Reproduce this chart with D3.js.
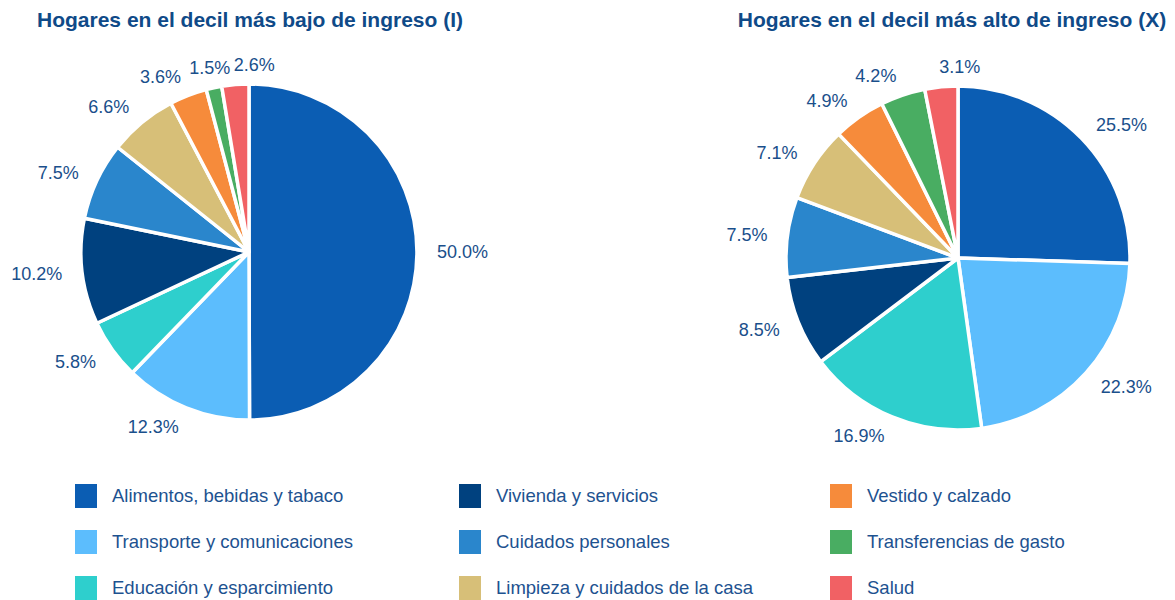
<!DOCTYPE html>
<meta charset="utf-8">
<style>
body { margin: 0; background: #fff; }
svg text { font-family: "Liberation Sans", Arial, sans-serif; }
.title { font-size: 21px; font-weight: bold; fill: #0f4a88; text-anchor: middle; }
.pct { font-size: 18px; fill: #1a4f8b; }
.legend text { font-size: 18.5px; fill: #1d5290; }
</style>
<svg id="chart" width="1175" height="600"></svg>
<script src="https://cdn.jsdelivr.net/npm/d3@7"></script>
<script>

// categories, in slice order (clockwise from 12 o'clock)
var categories = [
  "Alimentos, bebidas y tabaco",
  "Transporte y comunicaciones",
  "Educación y esparcimiento",
  "Vivienda y servicios",
  "Cuidados personales",
  "Limpieza y cuidados de la casa",
  "Vestido y calzado",
  "Transferencias de gasto",
  "Salud"
];

var colors = ["#0b5db3", "#5cbdfd", "#2ecfcd", "#00417f", "#2a86cc",
              "#d7bf78", "#f68b3b", "#49ad62", "#f16164"];

// % del gasto
var decilBajo = [50.0, 12.3, 5.8, 10.2, 7.5, 6.6, 3.6, 1.5, 2.6];
var decilAlto = [25.5, 22.3, 16.9, 8.5, 7.5, 7.1, 4.9, 4.2, 3.1];

var titles = ["Hogares en el decil más bajo de ingreso (I)",
              "Hogares en el decil más alto de ingreso (X)"];

// legend is filled column by column
var legendOrder = [0, 1, 2, 3, 4, 5, 6, 7, 8];

var svg = d3.select("#chart");

var color = d3.scaleOrdinal().domain(categories).range(colors);

function drawPie(values, cx, cy, r, title, titleX) {
  svg.append("text")
    .attr("class", "title")
    .attr("x", titleX)
    .attr("y", 27)
    .text(title);

  var data = values.map(function(v, i) { return { cat: categories[i], value: v }; });

  var pie = d3.pie().sort(null).value(function(d) { return d.value; });
  var arc = d3.arc().innerRadius(0).outerRadius(r);

  var g = svg.append("g").attr("transform", "translate(" + cx + "," + cy + ")");

  var arcs = pie(data);

  g.selectAll("path")
    .data(arcs)
    .enter().append("path")
      .attr("d", arc)
      .attr("fill", function(d) { return color(d.data.cat); })
      .attr("stroke", "#fff")
      .attr("stroke-width", 3.5)
      .attr("stroke-linejoin", "round");

  // labels sit just outside the rim
  var labelR = r + 20;
  g.selectAll("text.pct")
    .data(arcs)
    .enter().append("text")
      .attr("class", "pct")
      .attr("x", function(d) { return Math.sin((d.startAngle + d.endAngle) / 2) * labelR; })
      .attr("y", function(d) { return -Math.cos((d.startAngle + d.endAngle) / 2) * labelR; })
      .attr("dy", "0.35em")
      .attr("text-anchor", function(d) {
        var s = Math.sin((d.startAngle + d.endAngle) / 2);
        if (s > -0.12) return "start";
        if (s < -0.3) return "end";
        return "middle";
      })
      .text(function(d) { return d3.format(".1f")(d.data.value) + "%"; });
}

drawPie(decilBajo, 249, 252, 168, titles[0], 250);
drawPie(decilAlto, 958, 258, 172, titles[1], 952);

// legend
var colX = d3.scaleOrdinal().domain([0, 1, 2]).range([75, 459, 830]);
var rowY = d3.scalePoint().domain([0, 1, 2]).range([496, 588]);

var leg = svg.append("g").attr("class", "legend")
  .selectAll("g")
  .data(legendOrder)
  .enter().append("g")
    .attr("transform", function(d, i) {
      return "translate(" + colX(Math.floor(i / 3)) + "," + rowY(i % 3) + ")";
    });

leg.append("rect")
  .attr("x", 0)
  .attr("y", -12)
  .attr("width", 22)
  .attr("height", 24)
  .attr("fill", function(d) { return colors[d]; });

leg.append("text")
  .attr("x", 37)
  .attr("dy", "0.35em")
  .text(function(d) { return categories[d]; });

</script>
